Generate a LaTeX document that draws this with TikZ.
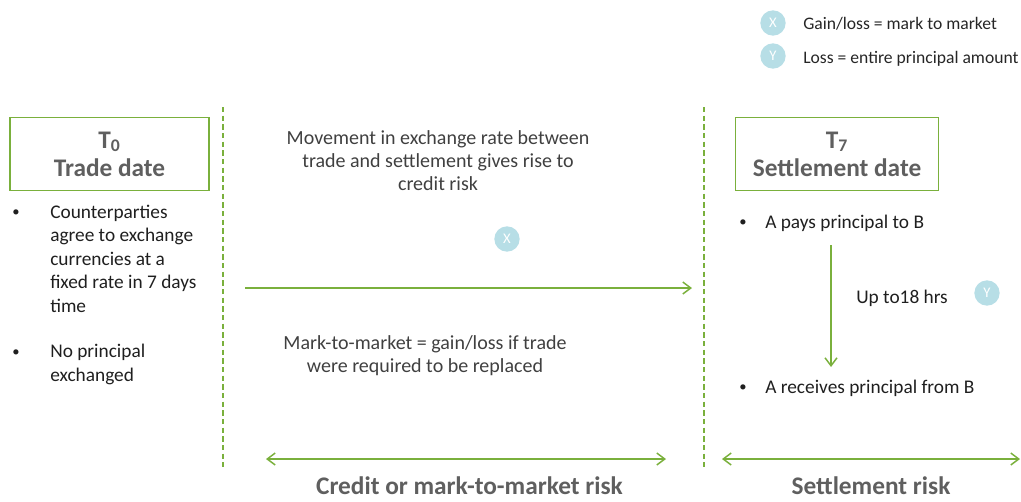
\documentclass[tikz,border=0pt]{standalone}
\usepackage{fontspec}
\setmainfont{Carlito}
\usetikzlibrary{positioning,arrows.meta}
\definecolor{framegreen}{RGB}{122,176,60}
\definecolor{titlegray}{RGB}{95,95,95}
\definecolor{midgray}{RGB}{64,64,64}
\definecolor{dotblue}{RGB}{183,222,230}

\tikzset{
  datebox/.style={rectangle, draw=framegreen, line width=1.1pt, minimum width=149.25pt, minimum height=55pt,
    align=center, text=titlegray, font=\fontsize{19}{21}\selectfont\bfseries},
  bodytext/.style={inner sep=0pt, align=left, text=black!88, font=\fontsize{14.5}{17.6}\selectfont},
  midtext/.style={inner sep=0pt, align=center, text=midgray, font=\fontsize{15}{17}\selectfont},
  keytext/.style={inner sep=0pt, text=black!85, font=\fontsize{13.2}{15}\selectfont},
  risklabel/.style={inner sep=0pt, text depth=0pt, text=titlegray, font=\fontsize{19}{21}\selectfont\bfseries},
  bulletmark/.style={inner sep=0pt, text=black!88, font=\fontsize{11}{12}\selectfont},
  marker/.style={circle, fill=dotblue, text=white, minimum size=19pt, inner sep=0pt, font=\fontsize{11}{12}\selectfont},
  divider/.style={draw=framegreen, line width=0.8pt, dash pattern=on 4pt off 2.5pt},
  greenarrow/.style={draw=framegreen, line width=1.1pt, -{Straight Barb[length=6pt,width=9pt]}},
  spanarrow/.style={draw=framegreen, line width=1.1pt, {Straight Barb[length=6pt,width=9pt]}-{Straight Barb[length=6pt,width=9pt]}}
}

\begin{document}
\begin{tikzpicture}[x=0.75pt,y=-0.75pt]
    \useasboundingbox (0,0) rectangle (1021,501);

    % legend
    \node[marker] (xkey) at (773,23) {X};
    \node[keytext, anchor=base west] (xkeytext) at (803,29) {Gain/loss = mark to market};
    \node[marker] (ykey) at (773,56) {Y};
    \node[keytext, anchor=base west] (ykeytext) at (803,63) {Loss = entire principal amount};

    % dates
    \node[datebox] (tzero) at (109.5,154) {T\textsubscript{0}\\Trade date};
    \node[datebox, minimum width=152.25pt] (tseven) at (837,154) {T\textsubscript{7}\\Settlement date};

    % dividers
    \coordinate (divonetop) at (223,107);
    \coordinate (divonebot) at (223,467);
    \coordinate (divtwotop) at (704,107);
    \coordinate (divtwobot) at (704,467);
    \draw[divider] (divonetop) -- (divonebot);
    \draw[divider] (divtwotop) -- (divtwobot);

    % trade date (base = last line)
    \node[bodytext, anchor=base west] (agree) at (50,312) {Counterparties\\agree to exchange\\currencies at a\\fixed rate in 7 days\\time};
    \node[bodytext, anchor=base west] (noprincipal) at (50,381) {No principal\\exchanged};
    \node[bulletmark, anchor=base] (dotagree) at (16,216) {\textbullet};
    \node[bulletmark, anchor=base] (dotnoprincipal) at (16,356) {\textbullet};

    % between the dates
    \node[midtext, anchor=base] (movement) at (438,190) {Movement in exchange rate between\\trade and settlement gives rise to\\credit risk};
    \node[marker] (xmid) at (507,239) {X};
    \coordinate (timestart) at (245,288);
    \coordinate (timeend) at (692,288);
    \draw[greenarrow] (timestart) -- (timeend);
    \node[midtext, anchor=base] (marktomarket) at (425,372) {Mark-to-market = gain/loss if trade\\were required to be replaced};

    % settlement date
    \node[bodytext, anchor=base west] (pays) at (765,228) {A pays principal to B};
    \node[bodytext, anchor=base west] (receives) at (765,393) {A receives principal from B};
    \node[bulletmark, anchor=base] (dotpays) at (743,226) {\textbullet};
    \node[bulletmark, anchor=base] (dotreceives) at (743,391) {\textbullet};
    \coordinate (paytop) at (831,245);
    \coordinate (paybot) at (831,367);
    \draw[greenarrow] (paytop) -- (paybot);
    \node[bodytext, anchor=base west] (uptime) at (856,303) {Up to18 hrs};
    \node[marker] (ysettle) at (987,293) {Y};

    % risk spans
    \coordinate (creditstart) at (266,459);
    \coordinate (creditend) at (666,459);
    \coordinate (settlestart) at (722,459);
    \coordinate (settleend) at (1020,459);
    \draw[spanarrow] (creditstart) -- (creditend);
    \draw[spanarrow] (settlestart) -- (settleend);
    \node[risklabel, anchor=base] (creditrisk) at (469.5,494) {Credit or mark-to-market risk};
    \node[risklabel, anchor=base] (settlerisk) at (871,494) {Settlement risk};
\end{tikzpicture}
\end{document}
